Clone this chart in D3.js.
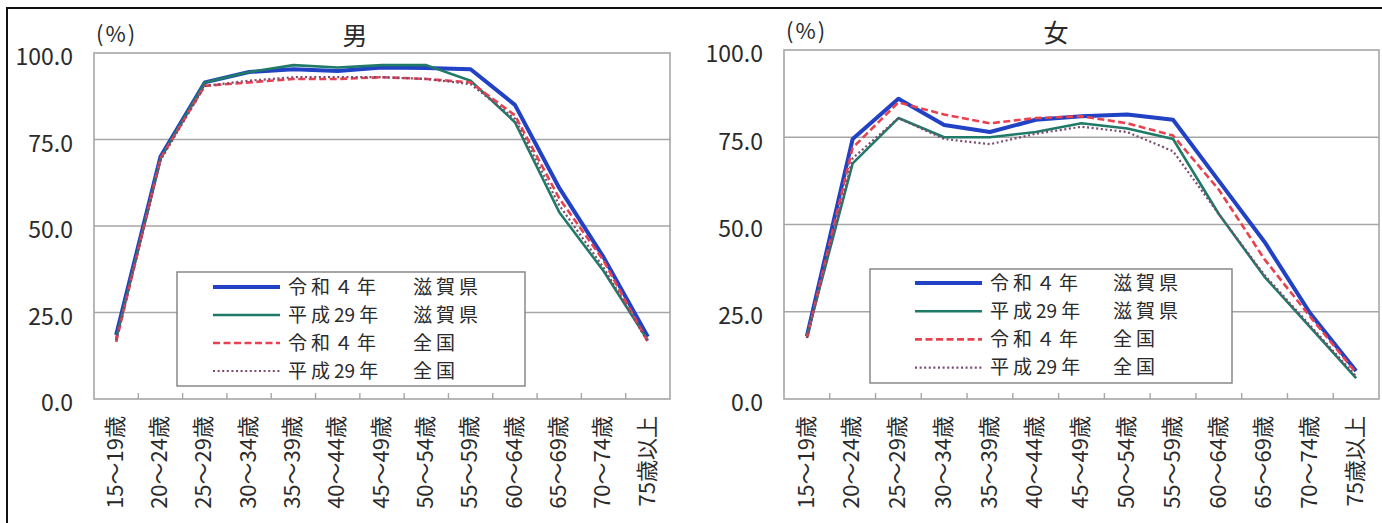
<!DOCTYPE html>
<html>
<head>
<meta charset="utf-8">
<script src="https://cdn.jsdelivr.net/npm/d3@7"></script>
<style>
  html, body { margin: 0; padding: 0; background: #fff; }
  svg { display: block; }
  text { font-family: "Noto Sans CJK JP", "Noto Sans", sans-serif; fill: #2a2a2a; }
</style>
</head>
<body>
<svg id="chart" width="1382" height="523"></svg>
<script>
// Labour force participation rate by age group (%)
const ageGroups = ["15～19歳", "20～24歳", "25～29歳", "30～34歳", "35～39歳", "40～44歳",
  "45～49歳", "50～54歳", "55～59歳", "60～64歳", "65～69歳", "70～74歳", "75歳以上"];
const yTicks = [0, 25, 50, 75, 100];
const panelTitles = ["男", "女"];
const seriesYears = ["令和４年", "平成29年", "令和４年", "平成29年"];
const seriesRegions = ["滋賀県", "滋賀県", "全国", "全国"];

// 男
const maleR4Shiga = [18.5, 70.0, 91.5, 94.5, 95.3, 94.8, 95.8, 95.7, 95.3, 85.0, 61.0, 41.0, 18.0];
const maleH29Shiga = [17.5, 69.5, 91.5, 94.5, 96.5, 95.8, 96.5, 96.5, 92.0, 80.0, 54.0, 37.0, 17.0];
const maleR4Japan = [16.5, 69.5, 90.5, 91.5, 92.5, 92.5, 93.0, 92.5, 91.5, 82.0, 58.0, 40.0, 16.5];
const maleH29Japan = [17.0, 69.0, 90.5, 92.0, 93.0, 93.0, 93.0, 92.5, 91.0, 81.0, 56.0, 38.0, 16.5];

// 女
const femaleR4Shiga = [18.0, 74.5, 86.0, 78.5, 76.5, 80.0, 81.0, 81.5, 80.0, 62.5, 45.0, 24.5, 8.0];
const femaleH29Shiga = [18.0, 67.5, 80.5, 75.0, 75.0, 76.5, 79.0, 77.5, 74.5, 53.0, 35.0, 20.5, 6.0];
const femaleR4Japan = [17.5, 72.0, 85.0, 81.5, 79.0, 80.5, 81.0, 79.0, 75.5, 60.0, 40.0, 23.5, 7.5];
const femaleH29Japan = [17.5, 69.0, 80.5, 74.5, 73.0, 76.0, 78.0, 76.5, 71.0, 53.0, 35.5, 21.0, 6.5];

// line styles, in drawing order (later series on top)
const styles = [
  { color: "#2142c4", width: 4,   dash: null },
  { color: "#1f7a68", width: 2.6, dash: null },
  { color: "#e8414f", width: 2.6, dash: "7,3.5" },
  { color: "#7d4a6e", width: 2.2, dash: "2,2.6" }
];

const panels = [
  { title: panelTitles[0], x0: 94, x1: 670, y0: 53, y1: 399, titleX: 355,
    series: [maleR4Shiga, maleH29Shiga, maleR4Japan, maleH29Japan],
    legend: { x: 177, y: 272, w: 348, h: 114, lineX: 36, rowY: 15, step: 28, textX: 111, regionX: 236 } },
  { title: panelTitles[1], x0: 784, x1: 1379, y0: 50, y1: 399, titleX: 1056,
    series: [femaleR4Shiga, femaleH29Shiga, femaleR4Japan, femaleH29Japan],
    legend: { x: 870, y: 269, w: 362, h: 114, lineX: 45, rowY: 14, step: 28.2, textX: 120, regionX: 243 } }
];

const svg = d3.select("#chart");

// outer frame
svg.append("path")
  .attr("d", "M7,540 L7,8 L1395,8")
  .attr("fill", "none").attr("stroke", "#111").attr("stroke-width", 2);

// legend label: wide tracking between ideographs, tight between digits
function spacedText(sel, str) {
  const chars = [...str];
  sel.selectAll("tspan").data(chars).join("tspan")
    .text(c => c)
    .style("letter-spacing", (c, i) =>
      (/[0-9]/.test(c) && /[0-9]/.test(chars[i + 1] || "")) ? "0px" : "4px");
}

panels.forEach(p => {
  const g = svg.append("g");
  const x = d3.scaleBand().domain(ageGroups).range([p.x0, p.x1]);
  const y = d3.scaleLinear().domain([0, 100]).range([p.y1, p.y0]);

  // horizontal gridlines
  g.selectAll("line.grid").data(yTicks.filter(t => t > 0 && t < 100)).join("line")
    .attr("class", "grid")
    .attr("x1", p.x0).attr("x2", p.x1)
    .attr("y1", d => y(d)).attr("y2", d => y(d))
    .attr("stroke", "#a6a6a6").attr("stroke-width", 1.6);

  // plot area border
  g.append("rect")
    .attr("x", p.x0).attr("y", p.y0)
    .attr("width", p.x1 - p.x0).attr("height", p.y1 - p.y0)
    .attr("fill", "none").attr("stroke", "#a6a6a6").attr("stroke-width", 1.6);

  // inward category tick marks at band edges
  g.selectAll("line.tick").data(ageGroups.slice(1)).join("line")
    .attr("class", "tick")
    .attr("x1", d => x(d)).attr("x2", d => x(d))
    .attr("y1", p.y1).attr("y2", p.y1 - 6)
    .attr("stroke", "#a6a6a6").attr("stroke-width", 1.4);

  // y axis labels
  const yAxis = g.append("g")
    .attr("transform", `translate(${p.x0},0)`)
    .call(d3.axisLeft(y).tickValues(yTicks).tickFormat(d3.format(".1f")).tickSize(0).tickPadding(21));
  yAxis.select(".domain").remove();
  yAxis.selectAll("text")
    .attr("dy", "0.52em")
    .style("font-size", "23px")
    .style("font-family", "\"Noto Sans CJK JP\", sans-serif")
    .attr("fill", "#333");

  // x axis labels, vertical
  const xAxis = g.append("g")
    .attr("transform", `translate(0,${p.y1})`)
    .call(d3.axisBottom(x).tickSize(0));
  xAxis.select(".domain").remove();
  xAxis.selectAll("text")
    .attr("transform", "rotate(-90)")
    .attr("x", -17).attr("y", -1).attr("dy", "0.35em")
    .style("text-anchor", "end")
    .style("font-size", "22px")
    .style("font-family", "\"Noto Sans CJK JP\", sans-serif")
    .attr("fill", "#333");

  // titles
  g.append("text")
    .attr("x", p.titleX).attr("y", p.y0 - 8)
    .attr("text-anchor", "middle")
    .style("font-size", "25px")
    .text(p.title);
  g.append("text")
    .attr("x", p.x0 + 2).attr("y", p.y0 - 11)
    .style("font-size", "22px")
    .style("letter-spacing", "2px")
    .attr("fill", "#333")
    .text("(%)");

  // legend
  const L = p.legend;
  const lg = g.append("g").attr("transform", `translate(${L.x},${L.y})`);
  lg.append("rect")
    .attr("width", L.w).attr("height", L.h)
    .attr("fill", "#fff").attr("stroke", "#808080").attr("stroke-width", 1.4);
  styles.forEach((s, i) => {
    const ry = L.rowY + i * L.step;
    lg.append("line")
      .attr("x1", L.lineX).attr("x2", L.lineX + 67)
      .attr("y1", ry).attr("y2", ry)
      .attr("stroke", s.color).attr("stroke-width", s.width)
      .attr("stroke-dasharray", s.dash);
    lg.append("text")
      .attr("x", L.textX).attr("y", ry).attr("dy", "0.36em")
      .style("font-size", "19px").attr("fill", "#333")
      .call(spacedText, seriesYears[i]);
    lg.append("text")
      .attr("x", L.regionX).attr("y", ry).attr("dy", "0.36em")
      .style("font-size", "19px").attr("fill", "#333")
      .call(spacedText, seriesRegions[i]);
  });

  // series lines
  const line = d3.line()
    .x((d, i) => x(ageGroups[i]) + x.bandwidth() / 2)
    .y(d => y(d));
  p.series.forEach((vals, i) => {
    const s = styles[i];
    g.append("path")
      .datum(vals)
      .attr("d", line)
      .attr("fill", "none")
      .attr("stroke", s.color)
      .attr("stroke-width", s.width)
      .attr("stroke-linejoin", "round")
      .attr("stroke-dasharray", s.dash);
  });
});
</script>
</body>
</html>
